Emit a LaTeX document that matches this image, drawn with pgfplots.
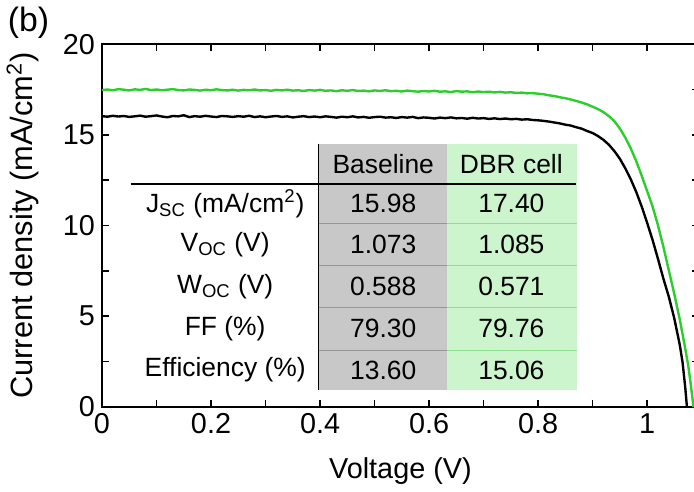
\documentclass[border=0pt]{standalone}
\usepackage{fontspec}
\setmainfont{Liberation Sans}
\usepackage{pgfplots}
\usepackage{pgfplotstable}
\pgfplotsset{compat=1.18}

\definecolor{dbrgreen}{RGB}{45,205,45}
\definecolor{cellgrey}{RGB}{200,200,200}
\definecolor{cellgreen}{RGB}{205,245,205}
\definecolor{sepgrey}{RGB}{150,150,150}
\definecolor{sepgreen}{RGB}{140,225,140}

% baseline cell J-V
\pgfplotstableread{
V J
0.00 16.03
0.01 16.00
0.02 16.05
0.03 16.01
0.04 16.04
0.05 15.99
0.06 16.02
0.07 16.06
0.08 16.00
0.09 16.03
0.10 16.07
0.11 16.01
0.12 15.97
0.13 16.04
0.14 16.02
0.15 16.08
0.16 15.98
0.17 16.03
0.18 16.00
0.19 16.05
0.20 16.01
0.21 15.98
0.22 16.04
0.23 16.02
0.24 15.99
0.25 16.03
0.26 16.00
0.27 16.05
0.28 15.98
0.29 16.02
0.30 15.97
0.31 16.01
0.32 16.04
0.33 15.99
0.34 16.02
0.35 15.96
0.36 16.00
0.37 16.03
0.38 15.98
0.39 16.01
0.40 15.97
0.41 16.02
0.42 15.99
0.43 15.95
0.44 16.00
0.45 15.97
0.46 16.02
0.47 15.96
0.48 15.99
0.49 15.94
0.50 15.98
0.51 16.00
0.52 15.95
0.53 15.97
0.54 15.93
0.55 15.98
0.56 15.95
0.57 15.99
0.58 15.92
0.59 15.96
0.60 15.94
0.61 15.90
0.62 15.95
0.63 15.92
0.64 15.96
0.65 15.91
0.66 15.93
0.67 15.89
0.68 15.94
0.69 15.90
0.70 15.92
0.71 15.88
0.72 15.91
0.73 15.87
0.74 15.90
0.75 15.86
0.76 15.88
0.77 15.84
0.78 15.86
0.79 15.82
0.80 15.80
0.81 15.77
0.82 15.73
0.83 15.68
0.84 15.63
0.85 15.56
0.86 15.51
0.87 15.42
0.88 15.34
0.89 15.21
0.90 15.10
0.91 14.93
0.92 14.72
0.93 14.45
0.94 14.10
0.95 13.68
0.96 13.15
0.97 12.55
0.98 11.85
0.99 11.05
1.00 10.15
1.01 9.20
1.02 8.15
1.03 7.05
1.04 6.05
1.05 4.85
1.06 3.40
1.065 2.45
1.07 1.05
1.073 0.00
1.076 -0.80
}\baseline

% DBR cell J-V
\pgfplotstableread{
V J
0.00 17.47
0.01 17.50
0.02 17.46
0.03 17.52
0.04 17.49
0.05 17.45
0.06 17.51
0.07 17.48
0.08 17.53
0.09 17.47
0.10 17.50
0.11 17.46
0.12 17.49
0.13 17.52
0.14 17.47
0.15 17.45
0.16 17.50
0.17 17.48
0.18 17.44
0.19 17.49
0.20 17.46
0.21 17.51
0.22 17.47
0.23 17.45
0.24 17.49
0.25 17.44
0.26 17.48
0.27 17.46
0.28 17.50
0.29 17.45
0.30 17.47
0.31 17.43
0.32 17.48
0.33 17.45
0.34 17.49
0.35 17.44
0.36 17.46
0.37 17.42
0.38 17.47
0.39 17.44
0.40 17.48
0.41 17.43
0.42 17.45
0.43 17.41
0.44 17.46
0.45 17.43
0.46 17.47
0.47 17.42
0.48 17.44
0.49 17.40
0.50 17.45
0.51 17.42
0.52 17.46
0.53 17.41
0.54 17.43
0.55 17.39
0.56 17.44
0.57 17.41
0.58 17.38
0.59 17.42
0.60 17.39
0.61 17.43
0.62 17.38
0.63 17.40
0.64 17.36
0.65 17.41
0.66 17.38
0.67 17.40
0.68 17.35
0.69 17.39
0.70 17.36
0.71 17.38
0.72 17.34
0.73 17.37
0.74 17.33
0.75 17.35
0.76 17.31
0.77 17.33
0.78 17.29
0.79 17.30
0.80 17.27
0.81 17.24
0.82 17.18
0.83 17.14
0.84 17.07
0.85 17.02
0.86 16.95
0.87 16.87
0.88 16.78
0.89 16.68
0.90 16.55
0.91 16.42
0.92 16.25
0.93 16.03
0.94 15.75
0.95 15.35
0.96 14.85
0.97 14.25
0.98 13.55
0.99 12.75
1.00 11.90
1.01 11.05
1.02 10.00
1.03 8.80
1.04 7.50
1.05 6.20
1.06 4.80
1.07 3.20
1.075 2.35
1.08 1.25
1.085 0.00
1.088 -0.70
}\dbrcell

\begin{document}
\begin{tikzpicture}
\begin{axis}[
  scale only axis,
  width=300.5pt, height=182.5pt,
  xmin=0, xmax=1.095, ymin=0, ymax=20,
  xtick={0,0.2,0.4,0.6,0.8,1},
  ytick={0,5,10,15,20},
  minor x tick num=1, minor y tick num=1,
  tick align=inside,
  major tick length=3.5pt, minor tick length=3.5pt,
  tick style={black, line width=0.8pt},
  axis line style={line width=1.1pt},
  /pgf/number format/assume math mode=true,
  ticklabel style={font=\fontsize{14.5}{16}\selectfont},
  xlabel={Voltage (V)},
  ylabel={Current density (mA/cm\textsuperscript{2})},
  every axis x label/.style={at={(rel axis cs:0.5,0)}, yshift=-32.5pt, anchor=center,
    font=\fontsize{14.5}{16}\selectfont},
  every axis y label/.style={at={(rel axis cs:0,0.5)}, xshift=-40pt, rotate=90, anchor=center,
    font=\fontsize{15.5}{17}\selectfont},
]
% table backgrounds
\fill[cellgrey] (axis cs:0.399,0.93) rectangle (axis cs:0.632,14.52);
\fill[cellgreen] (axis cs:0.632,0.93) rectangle (axis cs:0.871,14.52);
\draw[sepgrey, line width=0.3pt] (axis cs:0.399,10.14) -- (axis cs:0.632,10.14);
\draw[sepgrey, line width=0.3pt] (axis cs:0.399,7.78) -- (axis cs:0.632,7.78);
\draw[sepgrey, line width=0.3pt] (axis cs:0.399,5.48) -- (axis cs:0.632,5.48);
\draw[sepgrey, line width=0.3pt] (axis cs:0.399,3.12) -- (axis cs:0.632,3.12);
\draw[sepgreen, line width=0.3pt] (axis cs:0.632,10.14) -- (axis cs:0.871,10.14);
\draw[sepgreen, line width=0.3pt] (axis cs:0.632,7.78) -- (axis cs:0.871,7.78);
\draw[sepgreen, line width=0.3pt] (axis cs:0.632,5.48) -- (axis cs:0.871,5.48);
\draw[sepgreen, line width=0.3pt] (axis cs:0.632,3.12) -- (axis cs:0.871,3.12);
\draw[black, line width=0.9pt] (axis cs:0.053,12.27) -- (axis cs:0.869,12.27);
\draw[black, line width=0.9pt] (axis cs:0.397,14.52) -- (axis cs:0.397,0.93);

\addplot[black, line width=1.2pt] table[x=V, y=J] {\baseline};
\addplot[dbrgreen, line width=1.2pt] table[x=V, y=J] {\dbrcell};

% table text
\node[font=\fontsize{13.3}{15}\selectfont] at (axis cs:0.516,13.40) {Baseline};
\node[font=\fontsize{13.3}{15}\selectfont] at (axis cs:0.751,13.40) {DBR cell};
\node[font=\fontsize{13.3}{15}\selectfont] at (axis cs:0.226,11.20) {J\textsubscript{SC} (mA/cm\textsuperscript{2})};
\node[font=\fontsize{13.3}{15}\selectfont] at (axis cs:0.226,8.96) {V\textsubscript{OC} (V)};
\node[font=\fontsize{13.3}{15}\selectfont] at (axis cs:0.226,6.63) {W\textsubscript{OC} (V)};
\node[font=\fontsize{13.3}{15}\selectfont] at (axis cs:0.226,4.30) {FF (\%)};
\node[font=\fontsize{13.3}{15}\selectfont] at (axis cs:0.226,2.03) {Efficiency (\%)};
\node[font=\fontsize{13.3}{15}\selectfont] at (axis cs:0.516,11.20) {15.98};
\node[font=\fontsize{13.3}{15}\selectfont] at (axis cs:0.751,11.20) {17.40};
\node[font=\fontsize{13.3}{15}\selectfont] at (axis cs:0.516,8.96) {1.073};
\node[font=\fontsize{13.3}{15}\selectfont] at (axis cs:0.751,8.96) {1.085};
\node[font=\fontsize{13.3}{15}\selectfont] at (axis cs:0.516,6.63) {0.588};
\node[font=\fontsize{13.3}{15}\selectfont] at (axis cs:0.751,6.63) {0.571};
\node[font=\fontsize{13.3}{15}\selectfont] at (axis cs:0.516,4.30) {79.30};
\node[font=\fontsize{13.3}{15}\selectfont] at (axis cs:0.751,4.30) {79.76};
\node[font=\fontsize{13.3}{15}\selectfont] at (axis cs:0.516,2.03) {13.60};
\node[font=\fontsize{13.3}{15}\selectfont] at (axis cs:0.751,2.03) {15.06};
\coordinate (cutR) at (axis cs:1.086,0);
\end{axis}
\node[font=\fontsize{17}{19}\selectfont] at ([xshift=-37pt, yshift=11pt]current axis.north west) {(b)};
\coordinate (bbSW) at (current bounding box.south west);
\coordinate (bbNE) at (current bounding box.north east);
\pgfresetboundingbox
\useasboundingbox (bbSW) rectangle (cutR |- bbNE);
\end{tikzpicture}
\end{document}
